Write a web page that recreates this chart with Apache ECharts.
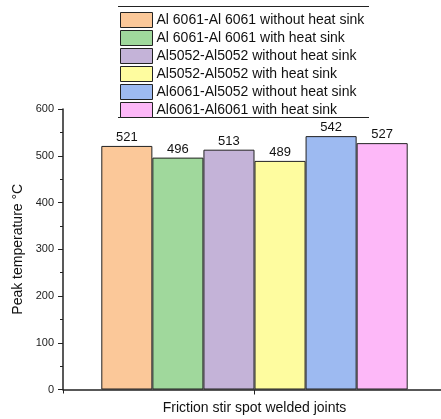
<!DOCTYPE html>
<html>
<head>
<meta charset="utf-8">
<title>Peak temperature of friction stir spot welded joints</title>
<script src="https://cdn.jsdelivr.net/npm/echarts@6/dist/echarts.min.js"></script>
<style>
  html, body { margin: 0; padding: 0; background: #ffffff; }
  #chart { width: 441px; height: 419px; }
</style>
</head>
<body>
<div id="chart"></div>
<script>
// Joint configurations (one bar each) and their peak temperatures in °C
const seriesNames = [
  'Al 6061-Al 6061 without heat sink',
  'Al 6061-Al 6061 with heat sink',
  'Al5052-Al5052 without heat sink',
  'Al5052-Al5052 with heat sink',
  'Al6061-Al5052 without heat sink',
  'Al6061-Al6061 with heat sink'
];
const peakTemps = [521, 496, 513, 489, 542, 527];
const barColors = ['#FBC899', '#A0D89C', '#C4B3D8', '#FEFC9F', '#9DBAF1', '#FDB8F8'];
const categories = [''];
const yTicks = { min: 0, max: 600, interval: 100 };

const FONT = '"Liberation Sans", Arial, Helvetica, sans-serif';

const chart = echarts.init(document.getElementById('chart'), null, { renderer: 'canvas' });

const series = seriesNames.map((name, i) => ({
  name: name,
  type: 'bar',
  xAxisIndex: 0,
  data: [peakTemps[i]],
  barGap: '0%',
  barCategoryGap: '20%',
  itemStyle: { color: barColors[i], borderColor: '#222222', borderWidth: 1 },
  label: {
    show: true,
    position: 'top',
    distance: 2,
    color: '#111111',
    fontSize: 13,
    fontFamily: FONT
  }
}));

const option = {
  backgroundColor: '#ffffff',
  animation: false,
  textStyle: { fontFamily: FONT },
  legend: {
    orient: 'vertical',
    left: 120,
    top: 12,
    icon: 'rect',
    itemWidth: 32,
    itemHeight: 15,
    itemGap: 2,
    padding: 0,
    selectedMode: false,
    data: seriesNames,
    itemStyle: { borderColor: '#222222', borderWidth: 1 },
    textStyle: { fontSize: 14, lineHeight: 15, height: 15, color: '#111111', fontFamily: FONT, padding: [0, 0, 0, -1] }
  },
  graphic: [
    { type: 'line', shape: { x1: 118, y1: 6.5, x2: 369, y2: 6.5 }, style: { stroke: '#222222', lineWidth: 1 } },
    { type: 'line', shape: { x1: 118, y1: 117.5, x2: 369, y2: 117.5 }, style: { stroke: '#222222', lineWidth: 1 } }
  ],
  grid: {
    left: 63, top: 109, width: 383, height: 280.5,
    containLabel: false,
    outerBoundsMode: 'none'
  },
  xAxis: [
    {
      type: 'category',
      data: categories,
      name: 'Friction stir spot welded joints',
      nameLocation: 'middle',
      nameGap: 12,
      nameTextStyle: { fontSize: 14, color: '#111111', fontFamily: FONT },
      axisLine: { show: true, lineStyle: { color: '#222222', width: 1.5 } },
      axisTick: { show: true, alignWithLabel: true, length: 5, lineStyle: { color: '#222222', width: 1 } },
      axisLabel: { show: false }
    },
    {
      type: 'category',
      data: categories,
      position: 'bottom',
      axisLine: { show: false },
      axisTick: { show: true, length: 4, lineStyle: { color: '#222222', width: 1 } },
      axisLabel: { show: false }
    }
  ],
  yAxis: {
    type: 'value',
    min: yTicks.min,
    max: yTicks.max,
    interval: yTicks.interval,
    name: 'Peak temperature °C',
    nameLocation: 'middle',
    nameGap: 30,
    nameTextStyle: { fontSize: 14, color: '#111111', fontFamily: FONT },
    axisLine: { show: true, lineStyle: { color: '#222222', width: 1.5 } },
    axisTick: { show: true, length: 5, lineStyle: { color: '#222222', width: 1 } },
    minorTick: { show: true, splitNumber: 2, length: 3, lineStyle: { color: '#222222', width: 1 } },
    axisLabel: { fontSize: 11, color: '#222222', margin: 9, fontFamily: FONT },
    splitLine: { show: false }
  },
  series: series
};

chart.setOption(option);
</script>
</body>
</html>
